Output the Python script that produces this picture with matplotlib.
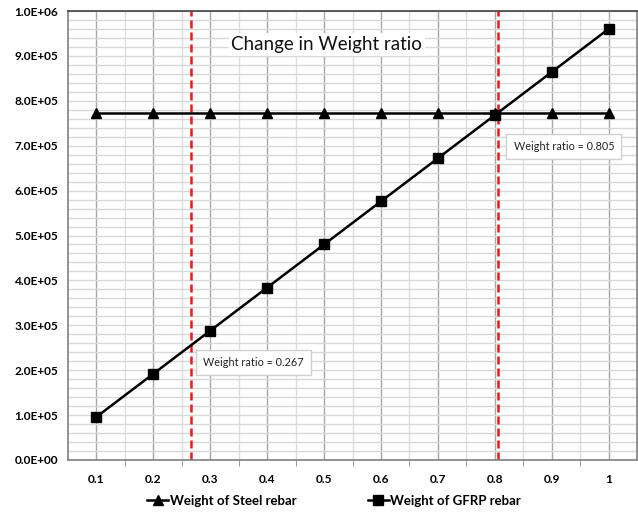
import matplotlib
matplotlib.use("Agg")
import matplotlib.pyplot as plt
from matplotlib.ticker import MultipleLocator, FixedLocator, FuncFormatter
from matplotlib.lines import Line2D

# ---- data ----
ratio = [0.1, 0.2, 0.3, 0.4, 0.5, 0.6, 0.7, 0.8, 0.9, 1.0]
x_labels = ["0.1", "0.2", "0.3", "0.4", "0.5", "0.6", "0.7", "0.8", "0.9", "1"]
steel_weight = [773000] * 10
gfrp_weight = [96000, 192000, 288000, 384000, 480000, 576000, 672000, 768000, 864000, 960000]
ratio_marks = [0.267, 0.805]
ratio_texts = ["Weight ratio = 0.267", "Weight ratio = 0.805"]
title = "Change in Weight ratio"
series_names = ["Weight of Steel rebar", "Weight of GFRP rebar"]

plt.rcParams['font.family'] = ['Lato', 'DejaVu Sans']

fig = plt.figure(figsize=(6.38, 5.13), dpi=100)
ax = fig.add_axes([68/638, 1-460/513, (637-68)/638, (460-11)/513])

ax.set_xlim(0.05, 1.05)
ax.set_ylim(0, 1.0e6)

# grids
ax.xaxis.set_major_locator(FixedLocator(ratio))
ax.xaxis.set_minor_locator(FixedLocator([r + 0.05 for r in ratio[:-1]]))
ax.yaxis.set_major_locator(MultipleLocator(1e5))
ax.yaxis.set_minor_locator(MultipleLocator(2e4))
ax.grid(which='minor', axis='y', color='#d8d8d8', lw=1.0)
ax.grid(which='major', axis='y', color='#d8d8d8', lw=1.0)
ax.grid(which='minor', axis='x', color='#dcdcdc', lw=1.0)
ax.grid(which='major', axis='x', color='#a8a8a8', lw=1.0)
ax.set_axisbelow(True)

ax.set_xticklabels(x_labels)
ax.yaxis.set_major_formatter(FuncFormatter(lambda v, p: "%.1E" % v))
ax.tick_params(axis='both', which='major', length=0, labelsize=8.6, pad=7, colors='black')
ax.tick_params(axis='x', which='major', pad=10)
ax.tick_params(axis='x', which='minor', length=4, color='#888888', direction='out')
ax.tick_params(axis='y', which='minor', length=0)
for lab in ax.get_xticklabels() + ax.get_yticklabels():
    lab.set_fontweight('bold')

for s in ax.spines.values():
    s.set_color('#808080')
    s.set_linewidth(1.2)
ax.spines['top'].set_color('#404040')

# red dashed lines
for r in ratio_marks:
    ax.axvline(r, color='#e8191c', lw=1.8, ls=(0, (3.2, 1.6)), zorder=2)

ax.plot(ratio, steel_weight, color='black', lw=1.8, marker='^', markersize=7, zorder=3)
ax.plot(ratio, gfrp_weight, color='black', lw=1.8, marker='s', markersize=6.5, zorder=3)

ax.text(0.455, 0.925, title, transform=ax.transAxes, ha='center', va='center',
        fontsize=13.5, color='#111111',
        bbox=dict(facecolor='white', edgecolor='none', pad=2))

ax.text(0.238, 0.218, ratio_texts[0], transform=ax.transAxes, ha='left', va='center',
        fontsize=7.8, color='#222222', zorder=5,
        bbox=dict(boxstyle='square,pad=0.65', facecolor='white', edgecolor='#d0d0d0', lw=1))
ax.text(0.783, 0.699, ratio_texts[1], transform=ax.transAxes, ha='left', va='center',
        fontsize=7.8, color='#222222', zorder=5,
        bbox=dict(boxstyle='square,pad=0.65', facecolor='white', edgecolor='#d0d0d0', lw=1))

handles = [Line2D([], [], color='black', lw=1.8, marker='^', markersize=7),
           Line2D([], [], color='black', lw=1.8, marker='s', markersize=6.5)]
leg = fig.legend(handles, series_names, loc='center', bbox_to_anchor=(334/638, 1-501/513),
                 ncol=2, frameon=False, handlelength=1.6, handletextpad=0.1,
                 columnspacing=5.4, prop={'weight': 'bold', 'size': 9.5})

fig.savefig("out.png", dpi=100)
